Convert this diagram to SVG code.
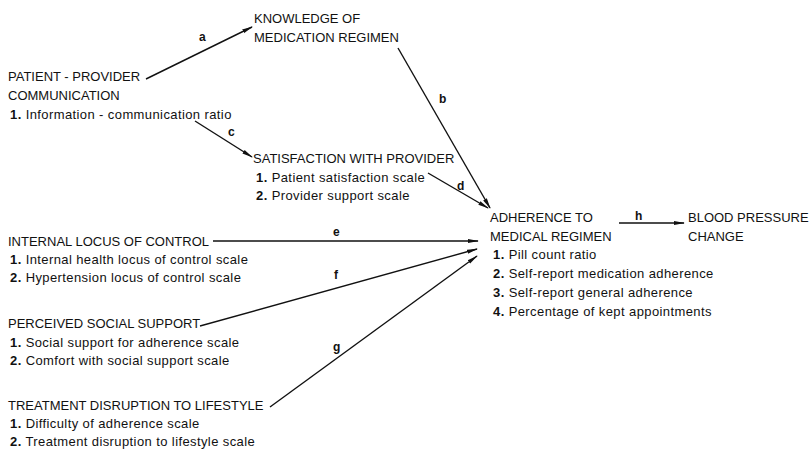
<svg xmlns="http://www.w3.org/2000/svg" width="809" height="449" viewBox="0 0 809 449">
<style>
text{font-family:"Liberation Sans",Arial,Helvetica,sans-serif;font-size:13px;fill:#111}
.it{letter-spacing:0.4px}
.n{font-weight:bold}
.lbl{font-size:12px;font-weight:bold}
.ln{stroke:#111;stroke-width:1.4;fill:none;marker-end:url(#ah)}
</style>
<defs>
<marker id="ah" markerWidth="11" markerHeight="6" refX="10" refY="3" orient="auto" markerUnits="userSpaceOnUse">
<path d="M0,0.9 L11,3 L0,5.1 Z" fill="#111"/>
</marker>
</defs>
<rect width="809" height="449" fill="#fff"/>
<g id="knowledge">
<text x="254" y="23">KNOWLEDGE OF</text>
<text x="254" y="42">MEDICATION REGIMEN</text>
</g>
<g id="communication">
<text x="8" y="81">PATIENT - PROVIDER</text>
<text x="8" y="100">COMMUNICATION</text>
<text class="it" x="10" y="119"><tspan class="n">1.</tspan> Information - communication ratio</text>
</g>
<g id="satisfaction">
<text x="253" y="163">SATISFACTION WITH PROVIDER</text>
<text class="it" x="256" y="182"><tspan class="n">1.</tspan> Patient satisfaction scale</text>
<text class="it" x="256" y="200"><tspan class="n">2.</tspan> Provider support scale</text>
</g>
<g id="adherence">
<text x="490" y="222">ADHERENCE TO</text>
<text x="490" y="241">MEDICAL REGIMEN</text>
<text class="it" x="493" y="259"><tspan class="n">1.</tspan> Pill count ratio</text>
<text class="it" x="493" y="278"><tspan class="n">2.</tspan> Self-report medication adherence</text>
<text class="it" x="493" y="297"><tspan class="n">3.</tspan> Self-report general adherence</text>
<text class="it" x="493" y="316"><tspan class="n">4.</tspan> Percentage of kept appointments</text>
</g>
<g id="bloodpressure">
<text x="688" y="222">BLOOD PRESSURE</text>
<text x="688" y="241">CHANGE</text>
</g>
<g id="locus">
<text x="8" y="246">INTERNAL LOCUS OF CONTROL</text>
<text class="it" x="10" y="264"><tspan class="n">1.</tspan> Internal health locus of control scale</text>
<text class="it" x="10" y="282"><tspan class="n">2.</tspan> Hypertension locus of control scale</text>
</g>
<g id="support">
<text x="8" y="328">PERCEIVED SOCIAL SUPPORT</text>
<text class="it" x="10" y="347"><tspan class="n">1.</tspan> Social support for adherence scale</text>
<text class="it" x="10" y="365"><tspan class="n">2.</tspan> Comfort with social support scale</text>
</g>
<g id="disruption">
<text x="8" y="410">TREATMENT DISRUPTION TO LIFESTYLE</text>
<text class="it" x="10" y="428"><tspan class="n">1.</tspan> Difficulty of adherence scale</text>
<text class="it" x="10" y="446"><tspan class="n">2.</tspan> Treatment disruption to lifestyle scale</text>
</g>
<g id="connectors">
<line class="ln" x1="146" y1="79" x2="252" y2="27"/>
<line class="ln" x1="398" y1="48" x2="490" y2="208"/>
<line class="ln" x1="195" y1="121" x2="252" y2="157"/>
<line class="ln" x1="428" y1="173" x2="488" y2="208"/>
<line class="ln" x1="213" y1="241" x2="478" y2="241"/>
<line class="ln" x1="200" y1="326" x2="477" y2="249"/>
<line class="ln" x1="270" y1="407" x2="477" y2="256"/>
<line class="ln" x1="619" y1="223" x2="684" y2="223"/>
<text class="lbl" x="199" y="41">a</text>
<text class="lbl" x="439" y="103">b</text>
<text class="lbl" x="228" y="136">c</text>
<text class="lbl" x="457" y="190">d</text>
<text class="lbl" x="333" y="236">e</text>
<text class="lbl" x="334" y="279">f</text>
<text class="lbl" x="333" y="351">g</text>
<text class="lbl" x="635" y="220">h</text>
</g>
</svg>
